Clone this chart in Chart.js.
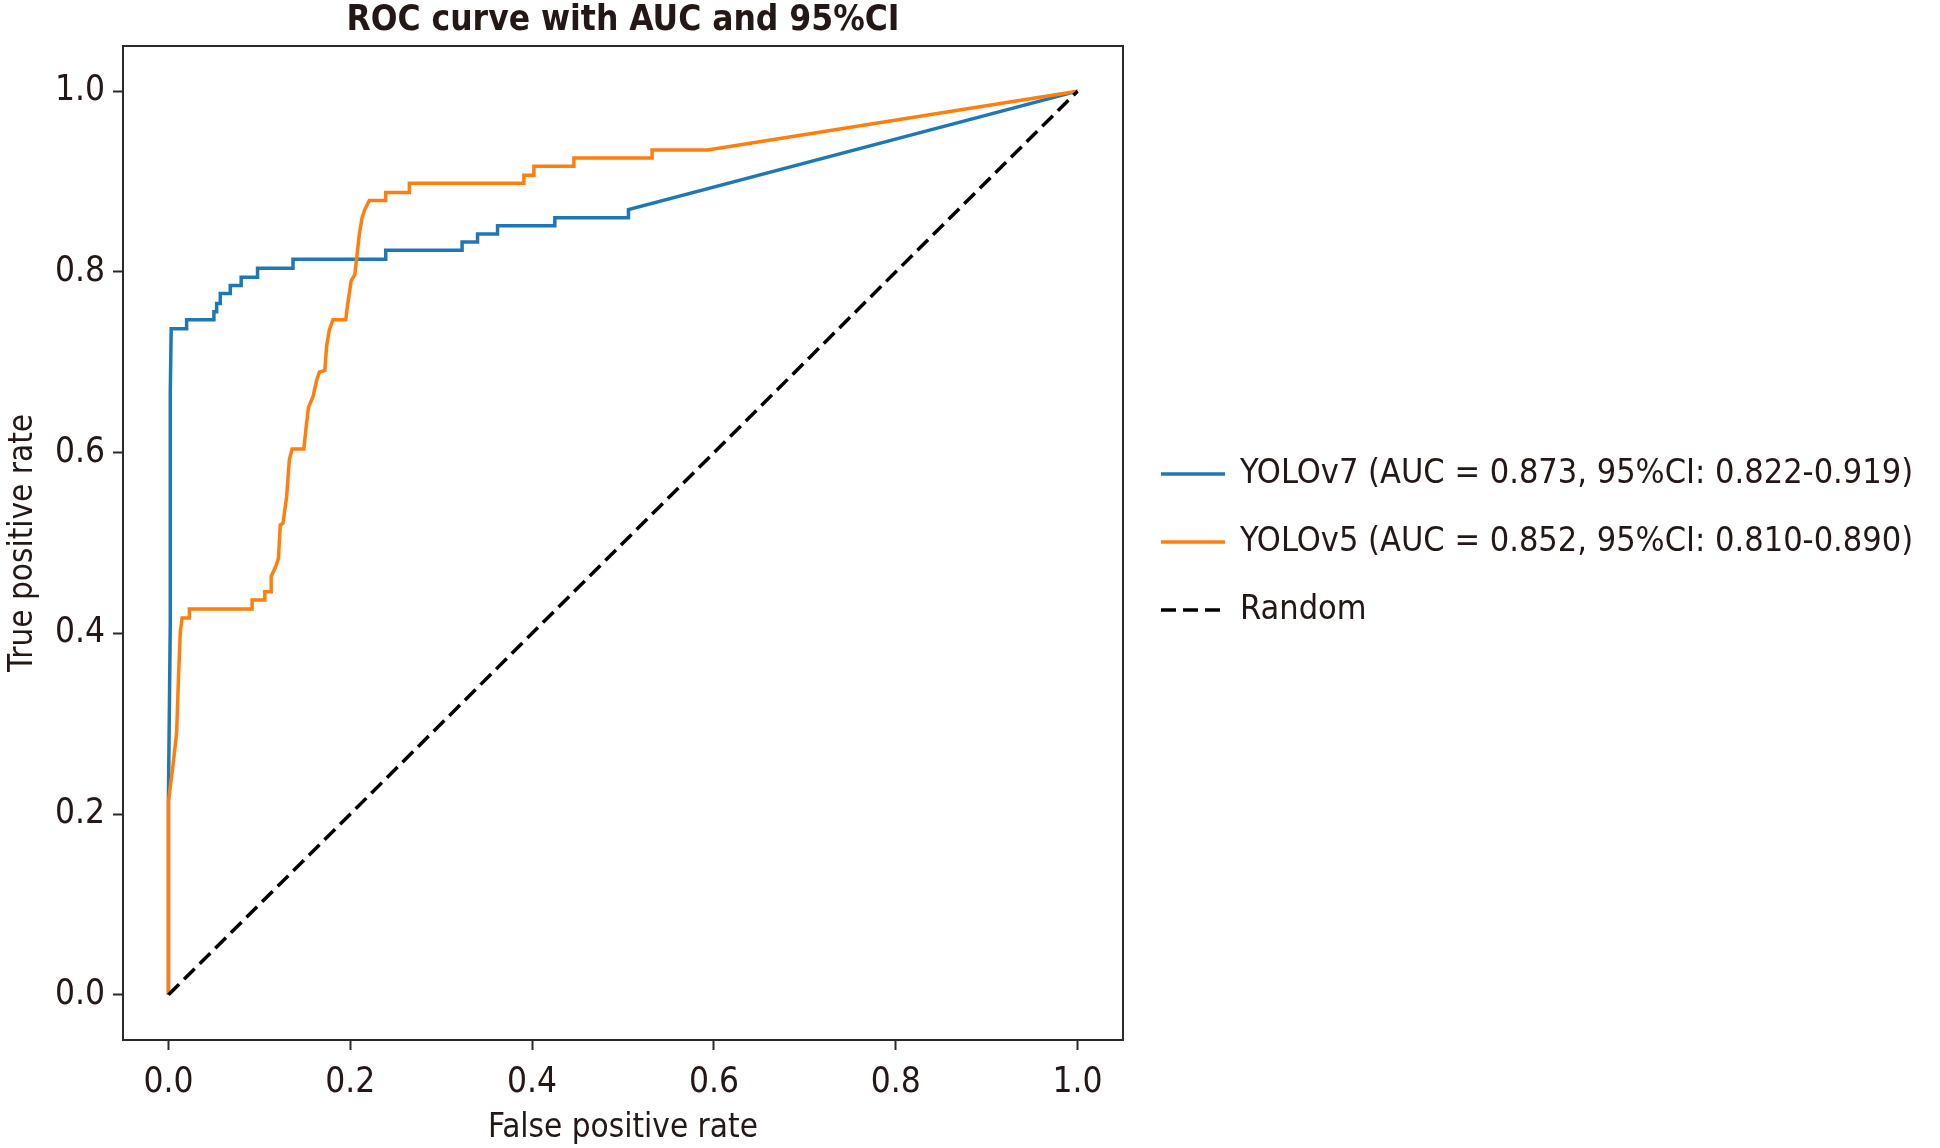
<!DOCTYPE html>
<html>
<head>
<meta charset="utf-8">
<script src="https://cdn.jsdelivr.net/npm/chart.js@4.4.1/dist/chart.umd.min.js"></script>
<style>
  html, body { margin: 0; padding: 0; background: #ffffff; }
  #wrap { width: 1940px; height: 1148px; }
</style>
</head>
<body>
<div id="wrap"><canvas id="c" width="1940" height="1148"></canvas></div>
<script>
// ---- data ----
const chartTitle = "ROC curve with AUC and 95%CI";
const xAxisTitle = "False positive rate";
const yAxisTitle = "True positive rate";
const tickValues = [0.0, 0.2, 0.4, 0.6, 0.8, 1.0];

const seriesLabels = [
  "YOLOv7 (AUC = 0.873, 95%CI: 0.822-0.919)",
  "YOLOv5 (AUC = 0.852, 95%CI: 0.810-0.890)",
  "Random"
];

const yolov7Fpr = [0, 0, 0.002, 0.002, 0.003, 0.020, 0.020, 0.050, 0.050, 0.053, 0.053, 0.057, 0.057, 0.068, 0.068, 0.080, 0.080, 0.098, 0.098, 0.137, 0.137, 0.239, 0.239, 0.323, 0.323, 0.340, 0.340, 0.362, 0.362, 0.425, 0.425, 0.506, 0.506, 1.0];
const yolov7Tpr = [0, 0.219, 0.411, 0.665, 0.737, 0.737, 0.747, 0.747, 0.756, 0.756, 0.765, 0.765, 0.776, 0.776, 0.785, 0.785, 0.794, 0.794, 0.804, 0.804, 0.814, 0.814, 0.824, 0.824, 0.833, 0.833, 0.842, 0.842, 0.851, 0.851, 0.860, 0.860, 0.869, 1.0];

const yolov5Fpr = [0, 0, 0.005, 0.009, 0.011, 0.013, 0.015, 0.023, 0.023, 0.092, 0.092, 0.106, 0.106, 0.113, 0.113, 0.118, 0.121, 0.123, 0.126, 0.130, 0.133, 0.136, 0.149, 0.151, 0.154, 0.159, 0.163, 0.166, 0.172, 0.174, 0.177, 0.181, 0.195, 0.197, 0.201, 0.205, 0.208, 0.210, 0.213, 0.216, 0.221, 0.239, 0.239, 0.265, 0.265, 0.391, 0.391, 0.402, 0.402, 0.446, 0.446, 0.532, 0.532, 0.593, 1.0];
const yolov5Tpr = [0, 0.214, 0.254, 0.290, 0.350, 0.401, 0.417, 0.417, 0.427, 0.427, 0.437, 0.437, 0.446, 0.446, 0.463, 0.474, 0.483, 0.520, 0.522, 0.551, 0.592, 0.604, 0.604, 0.624, 0.650, 0.662, 0.680, 0.689, 0.691, 0.718, 0.736, 0.747, 0.747, 0.763, 0.790, 0.797, 0.824, 0.842, 0.860, 0.869, 0.879, 0.879, 0.888, 0.888, 0.898, 0.898, 0.907, 0.907, 0.917, 0.917, 0.926, 0.926, 0.935, 0.935, 1.0];

const randomFpr = [0, 1];
const randomTpr = [0, 1];

// ---- styles ----
const FONT = "'DejaVu Sans Condensed', 'DejaVu Sans', sans-serif";
const TEXT = "#231815";
const AXIS = "#2a2a2a";
const colors = ["#1f77b4", "#ff7f0e", "#000000"];
const dashes = [[], [], [15, 7]];
const widths = [3.5, 3.5, 3.5];

function toPoints(xs, ys) { return xs.map((x, i) => ({ x: x, y: ys[i] })); }

const seriesData = [
  toPoints(yolov7Fpr, yolov7Tpr),
  toPoints(yolov5Fpr, yolov5Tpr),
  toPoints(randomFpr, randomTpr)
];

const datasets = seriesData.map((d, i) => ({
  label: seriesLabels[i],
  data: d,
  showLine: true,
  borderColor: colors[i],
  backgroundColor: colors[i],
  borderWidth: widths[i],
  borderDash: dashes[i],
  pointRadius: 0,
  pointHoverRadius: 0,
  tension: 0,
  fill: false,
  order: 3 - i
}));

const framePlugin = {
  id: 'frame',
  afterDraw(chart) {
    const { ctx, chartArea: a } = chart;
    ctx.save();
    ctx.strokeStyle = AXIS;
    ctx.lineWidth = 2;
    ctx.setLineDash([]);
    ctx.strokeRect(a.left, a.top, a.right - a.left, a.bottom - a.top);
    ctx.restore();
  }
};

const legendPlugin = {
  id: 'sideLegend',
  afterDraw(chart) {
    const ctx = chart.ctx;
    const x0 = 1161, x1 = 1225, tx = 1240;
    const rows = [474, 542, 610];
    ctx.save();
    chart.data.datasets.forEach((ds, i) => {
      const y = rows[i];
      ctx.strokeStyle = ds.borderColor;
      ctx.lineWidth = 3.5;
      ctx.setLineDash(ds.borderDash || []);
      ctx.beginPath();
      ctx.moveTo(x0, y);
      ctx.lineTo(x1, y);
      ctx.stroke();
      ctx.setLineDash([]);
      ctx.fillStyle = TEXT;
      ctx.font = "34px " + FONT;
      ctx.textBaseline = 'middle';
      ctx.textAlign = 'left';
      ctx.fillText(ds.label, tx, y);
    });
    ctx.restore();
  }
};

function fixedTicks(scale) {
  scale.ticks = tickValues.map(v => ({ value: v }));
}

new Chart(document.getElementById('c'), {
  type: 'scatter',
  data: { datasets: datasets },
  options: {
    responsive: false,
    animation: false,
    devicePixelRatio: 1,
    layout: { padding: { left: 0, right: 817, top: 0, bottom: 0 } },
    plugins: {
      legend: { display: false },
      tooltip: { enabled: false },
      title: {
        display: true,
        text: chartTitle,
        fullSize: false,
        color: TEXT,
        font: { family: FONT, size: 35, weight: 'bold', lineHeight: 1.2 },
        padding: { top: 0, bottom: 4 }
      }
    },
    scales: {
      x: {
        type: 'linear',
        min: -0.05,
        max: 1.05,
        afterBuildTicks: fixedTicks,
        afterFit(s) { s.height = 108; },
        ticks: {
          callback: v => Number(v).toFixed(1),
          color: TEXT,
          font: { family: FONT, size: 35 },
          padding: 12,
          maxRotation: 0,
          autoSkip: false
        },
        grid: { drawOnChartArea: false, drawTicks: true, tickLength: 10, color: AXIS, tickWidth: 2 },
        border: { display: true, color: AXIS, width: 2 },
        title: { display: true, text: xAxisTitle, color: TEXT, font: { family: FONT, size: 33 }, padding: { top: 2, bottom: 0 } }
      },
      y: {
        type: 'linear',
        min: -0.05,
        max: 1.05,
        afterBuildTicks: fixedTicks,
        afterFit(s) { s.width = 123; },
        ticks: {
          callback: v => Number(v).toFixed(1),
          color: TEXT,
          font: { family: FONT, size: 35 },
          padding: 8,
          autoSkip: false
        },
        grid: { drawOnChartArea: false, drawTicks: true, tickLength: 10, color: AXIS, tickWidth: 2 },
        border: { display: true, color: AXIS, width: 2 },
        title: { display: true, text: yAxisTitle, color: TEXT, font: { family: FONT, size: 33 }, padding: { top: 4, bottom: 0 } }
      }
    }
  },
  plugins: [framePlugin, legendPlugin]
});
</script>
</body>
</html>
